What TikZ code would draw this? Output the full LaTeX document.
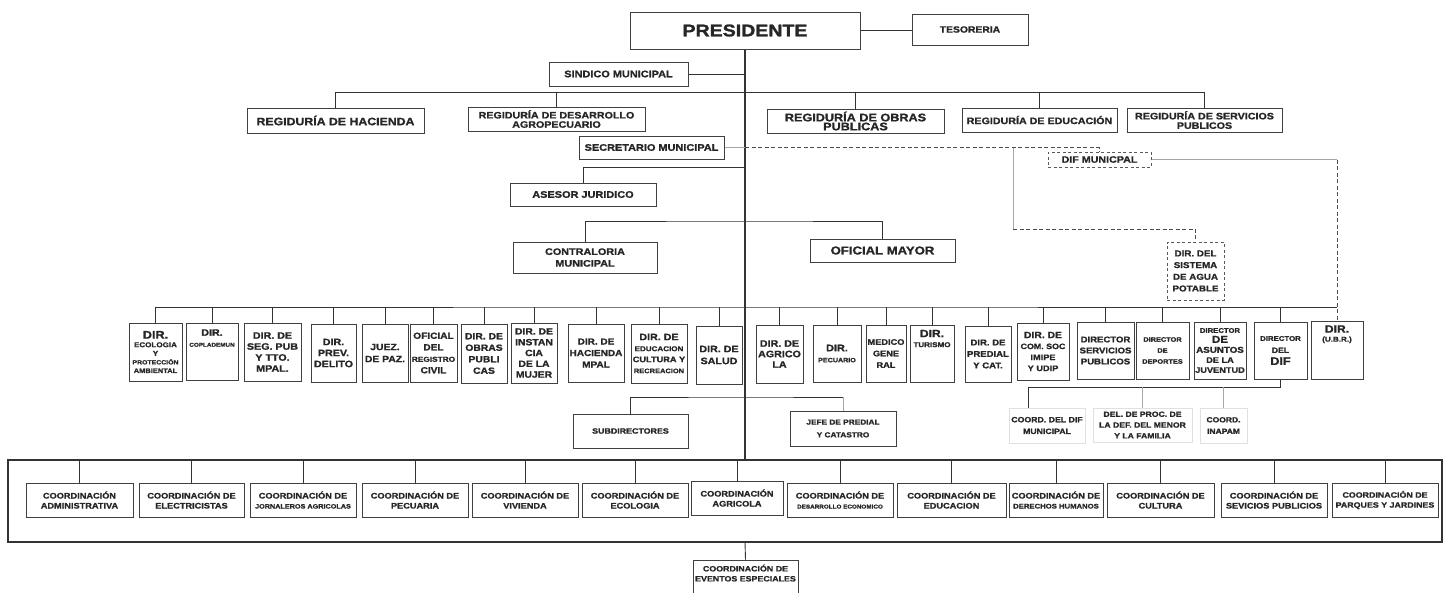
\documentclass[tikz,border=0pt]{standalone}
\usepackage{fontspec}
\setmainfont[FakeStretch=1.15, BoldFeatures={FakeBold=1.3}]{Liberation Sans}
\usepackage{tikz}

\newcommand{\fsz}[2]{\fontsize{#1}{#2}\selectfont}

\tikzset{
    box/.style={draw=black!75, line width=1pt, fill=white, inner sep=0.5pt, align=center, text=black!85},
    dbox/.style={box, draw=black!65, dash pattern=on 3pt off 2.5pt},
    gbox/.style={box, draw=black!12, line width=0.6pt},
    sz/.style 2 args={font={\bfseries\fontsize{#1}{#2}\selectfont}},
    ln/.style={draw=black!80, line width=0.9pt},
    tln/.style={draw=black!35, line width=0.6pt},
    dln/.style={draw=black!70, line width=0.9pt, dash pattern=on 4pt off 2.5pt},
}

\begin{document}
\begin{tikzpicture}[x=1pt, y=-1pt]
    \useasboundingbox (0,0) rectangle (1448,592);

    % top
    \node[box, minimum width=230, minimum height=37, sz={17}{20}] (pres) at (745,30.5) {PRESIDENTE};
    \node[box, minimum width=116, minimum height=31, sz={9}{11}] (teso) at (970,29.5) {TESORERIA};
    \node[box, minimum width=139, minimum height=24, sz={9.5}{11}] (sind) at (618.5,74) {SINDICO MUNICIPAL};

    % regidurias
    \node[box, minimum width=177, minimum height=25, sz={10.7}{12}] (rhac) at (335.5,120.5) {REGIDURÍA DE HACIENDA};
    \node[box, minimum width=177, minimum height=24, sz={9.3}{9.3}] (rdes) at (556.5,119) {REGIDURÍA DE DESARROLLO\\AGROPECUARIO};
    \node[box, minimum width=177, minimum height=24, sz={11}{9}] (robr) at (855.5,121) {REGIDURÍA DE OBRAS\\PUBLICAS};
    \node[box, minimum width=155, minimum height=24, sz={9.3}{11}] (redu) at (1039.5,120) {REGIDURÍA DE EDUCACIÓN};
    \node[box, minimum width=155, minimum height=24, sz={9.3}{9.5}] (rser) at (1204.5,120) {REGIDURÍA DE SERVICIOS\\PUBLICOS};

    % staff
    \node[box, minimum width=145, minimum height=23, sz={9.5}{11}] (secr) at (651.5,147.5) {SECRETARIO MUNICIPAL};
    \node[dbox, minimum width=103, minimum height=15, sz={9.3}{11}] (dif) at (1099.5,159.5) {DIF MUNICPAL};
    \node[box, minimum width=146, minimum height=23, sz={9.5}{11}] (asesor) at (583,194.5) {ASESOR JURIDICO};
    \node[box, minimum width=144, minimum height=31, sz={9.4}{11.7}] (contra) at (585,257.5) {CONTRALORIA\\MUNICIPAL};
    \node[box, minimum width=145, minimum height=23, sz={11.4}{13}] (ofic) at (882.5,250.5) {OFICIAL MAYOR};
    \node[dbox, minimum width=57, minimum height=58, sz={8.5}{11.7}] (agua) at (1195.5,271) {DIR. DEL\\SISTEMA\\DE AGUA\\POTABLE};

    % direcciones
    \node[box, minimum width=53, minimum height=58, sz={9}{8.6}] (deco) at (155.5,352) {{\fsz{11}{9}DIR.}\\{\fsz{7}{8.6}ECOLOGIA}\\{\fsz{7}{7}Y}\\{\fsz{6}{8.6}PROTECCIÓN}\\{\fsz{6.5}{8.6}AMBIENTAL}};
    \node[box, minimum width=52, minimum height=57, sz={9.3}{11}] (dcop) at (212,351.5) {DIR.\\{\fsz{5.5}{9}COPLADEMUN}\\[16pt]\mbox{}};
    \node[box, minimum width=57, minimum height=58, sz={9.3}{11}] (dseg) at (272.5,352) {DIR. DE\\SEG. PUB\\Y TTO.\\MPAL.};
    \node[box, minimum width=45, minimum height=58, sz={9.3}{11}] (dprev) at (333.5,353) {DIR.\\PREV.\\DELITO};
    \node[box, minimum width=46, minimum height=58, sz={9}{12}] (djuez) at (385,353) {JUEZ.\\DE PAZ.};
    \node[box, minimum width=47, minimum height=58, sz={8.8}{11.5}] (dofi) at (433.5,353) {OFICIAL\\DEL\\{\fsz{7.2}{11.5}REGISTRO}\\CIVIL};
    \node[box, minimum width=46, minimum height=59, sz={9}{11.5}] (dobr) at (484,353.5) {DIR. DE\\OBRAS\\PUBLI\\CAS};
    \node[box, minimum width=46, minimum height=60, sz={9}{10.8}] (dmuj) at (534,353) {DIR. DE\\INSTAN\\CIA\\DE LA\\MUJER};
    \node[box, minimum width=56, minimum height=58, sz={8.7}{11.5}] (dhac) at (596,353) {DIR. DE\\HACIENDA\\MPAL};
    \node[box, minimum width=56, minimum height=59, sz={9.3}{11}] (dedu) at (659,353.5) {DIR. DE\\{\fsz{7}{11}EDUCACION}\\{\fsz{8}{11}CULTURA Y}\\{\fsz{6.5}{11}RECREACION}};
    \node[box, minimum width=46, minimum height=58, sz={9.3}{12}] (dsal) at (719,355) {DIR. DE\\SALUD};
    \node[box, minimum width=47, minimum height=58, sz={9.3}{10.5}] (dagr) at (779.5,354) {DIR. DE\\AGRICO\\LA};
    \node[box, minimum width=48, minimum height=57, sz={9.5}{11}] (dpec) at (837,353.5) {DIR.\\{\fsz{6.2}{11}PECUARIO}};
    \node[box, minimum width=40, minimum height=57, sz={8}{11.5}] (dmed) at (886,353.5) {MEDICO\\GENE\\RAL};
    \node[box, minimum width=44, minimum height=57, sz={10.5}{10}] (dtur) at (932,353.5) {DIR.\\{\fsz{7}{10}TURISMO}\\[20pt]\mbox{}};
    \node[box, minimum width=46, minimum height=56, sz={8.3}{11.5}] (dpre) at (988,354) {DIR. DE\\PREDIAL\\Y CAT.};
    \node[box, minimum width=52, minimum height=57, sz={9}{11}] (dcom) at (1043,351.5) {DIR. DE\\{\fsz{7.7}{11}COM. SOC}\\{\fsz{8}{11}IMIPE}\\{\fsz{8}{11}Y UDIP}};
    \node[box, minimum width=57, minimum height=57, sz={8.3}{11}] (dser) at (1105.5,350.5) {DIRECTOR\\SERVICIOS\\PUBLICOS};
    \node[box, minimum width=53, minimum height=57, sz={6.4}{11}] (ddep) at (1162.5,350.5) {DIRECTOR\\DE\\DEPORTES};
    \node[box, minimum width=52, minimum height=57, sz={8}{10}] (djuv) at (1220,350.5) {{\fsz{6.7}{10}DIRECTOR}\\{\fsz{10}{10}DE}\\{\fsz{8.5}{10}ASUNTOS}\\DE LA\\JUVENTUD};
    \node[box, minimum width=53, minimum height=57, sz={7.5}{12}] (ddif) at (1280.5,350.5) {{\fsz{6.8}{12}DIRECTOR}\\DEL\\{\fsz{11}{12}DIF}};
    \node[box, minimum width=52, minimum height=58, sz={10.5}{9}] (dubr) at (1337,350) {DIR.\\{\fsz{7}{9}(U.B.R.)}\\[24pt]\mbox{}};

    % under the directors
    \node[box, minimum width=115, minimum height=34, sz={7.7}{11}] (subd) at (630.5,431) {SUBDIRECTORES};
    \node[box, minimum width=106, minimum height=35, sz={7.2}{12.7}] (jefe) at (843,428.5) {JEFE DE PREDIAL\\Y CATASTRO};
    \node[gbox, minimum width=76, minimum height=35, sz={7.6}{11.7}] (cdif) at (1047,425.5) {COORD. DEL DIF\\MUNICIPAL};
    \node[gbox, minimum width=99, minimum height=34, sz={7.5}{10.8}] (defm) at (1142.5,425) {DEL. DE PROC. DE\\LA DEF. DEL MENOR\\Y LA FAMILIA};
    \node[gbox, minimum width=47, minimum height=35, sz={7.4}{11.5}] (inap) at (1223.5,425.5) {COORD.\\INAPAM};

    % coordinaciones
    \node[box, minimum width=107, minimum height=34, sz={8}{10}] (c1) at (79.5,500) {COORDINACIÓN\\ADMINISTRATIVA};
    \node[box, minimum width=105, minimum height=34, sz={8}{10}] (c2) at (191.5,500) {COORDINACIÓN DE\\ELECTRICISTAS};
    \node[box, minimum width=106, minimum height=34, sz={8}{10}] (c3) at (303,500) {COORDINACIÓN DE\\{\fsz{6.3}{10}JORNALEROS AGRICOLAS}};
    \node[box, minimum width=106, minimum height=34, sz={8}{10}] (c4) at (415,500) {COORDINACIÓN DE\\PECUARIA};
    \node[box, minimum width=106, minimum height=34, sz={8}{10}] (c5) at (525,500) {COORDINACIÓN DE\\VIVIENDA};
    \node[box, minimum width=106, minimum height=34, sz={8}{10}] (c6) at (635,500) {COORDINACIÓN DE\\ECOLOGIA};
    \node[box, minimum width=92, minimum height=34, sz={8}{10}] (c7) at (737,498) {COORDINACIÓN\\AGRICOLA};
    \node[box, minimum width=106, minimum height=34, sz={8}{10}] (c8) at (840,500) {COORDINACIÓN DE\\{\fsz{5.5}{10}DESARROLLO ECONOMICO}};
    \node[box, minimum width=109, minimum height=34, sz={8}{10}] (c9) at (951.5,500) {COORDINACIÓN DE\\EDUCACION};
    \node[box, minimum width=94, minimum height=34, sz={8}{10}] (c10) at (1056,500) {COORDINACIÓN DE\\{\fsz{6.7}{10}DERECHOS HUMANOS}};
    \node[box, minimum width=107, minimum height=34, sz={8}{10}] (c11) at (1160.5,500) {COORDINACIÓN DE\\CULTURA};
    \node[box, minimum width=106, minimum height=34, sz={8}{10}] (c12) at (1274,500) {COORDINACIÓN DE\\SEVICIOS PUBLICIOS};
    \node[box, minimum width=106, minimum height=34, sz={7.7}{10}] (c13) at (1385,500) {COORDINACIÓN DE\\PARQUES Y JARDINES};
    \node[box, minimum width=105, minimum height=40, sz={7.7}{10}] (even) at (745.5,580) {COORDINACIÓN DE\\EVENTOS ESPECIALES\\[4pt]\mbox{}};

    \coordinate (reg) at (745,92);   % regidurias
    \coordinate (aj) at (745,167);   % asesor
    \coordinate (co) at (745,221);   % contraloria / oficial
    \coordinate (sb) at (1013,147.5);
    \coordinate (ag) at (1013,229);
    \coordinate (dl) at (745,307);   % direcciones
    \coordinate (sj) at (745,397);
    \coordinate (dd) at (1028,387);
    \coordinate (cf1) at (8,460);    % frame top left
    \coordinate (cf2) at (1442,542); % frame bottom right
    \coordinate (cb) at (745,542);

    % spine
    \draw[ln, line width=1.3pt] (pres.south) -- (pres.south |- cf1);
    \draw[ln] (pres.east) -- (pres.east -| teso.west);
    \draw[ln] (sind.east) -- (sind.east -| pres.south);

    \draw[ln] (rhac.north) -- (rhac.north |- reg) -- (rser.north |- reg) -- (rser.north);
    \foreach \n in {rdes, robr, redu}
        \draw[ln] (\n.north) -- (\n.north |- reg);

    \draw[tln] (secr.east) -- (secr.east -| pres.south);
    \draw[dln] (secr.east -| pres.south) -| (dif.north);
    \draw[tln] (sb) -- (ag);
    \draw[dln] (ag) -| (agua.north);
    \draw[tln] (dif.east) -- (dif.east -| dubr.north);
    \draw[dln] (dif.east -| dubr.north) -- (dubr.north);

    \draw[ln] (asesor.north) |- (aj);
    \draw[ln] (contra.north) |- (co) -| (ofic.north);

    \draw[ln] (deco.north) |- (dl) -- (dl -| dubr.north);
    \foreach \n in {dcop, dseg, dprev, djuez, dofi, dobr, dmuj, dhac, dedu, dsal, dagr, dpec, dmed, dtur, dpre, dcom, dser, ddep, djuv, ddif}
        \draw[ln] (\n.north) -- (\n.north |- dl);

    \draw[ln] (subd.north) |- (sj) -- (sj -| jefe.north);
    \draw[tln] (sj -| jefe.north) -- (jefe.north);

    \draw[ln] (ddif.south) |- (dd) -- (dd |- cdif.north);
    \draw[tln] (defm.north) -- (defm.north |- dd);
    \draw[tln] (inap.north) -- (inap.north |- dd);

    % coordinaciones frame
    \draw[ln, line width=1.1pt] (cf1) rectangle (cf2);
    \foreach \n in {c1, c2, c3, c4, c5, c6, c7, c8, c9, c10, c11, c12, c13}
        \draw[ln] (\n.north) -- (\n.north |- cf1);
    \draw[ln] (cb) -- (even.north);

\end{tikzpicture}
\end{document}
